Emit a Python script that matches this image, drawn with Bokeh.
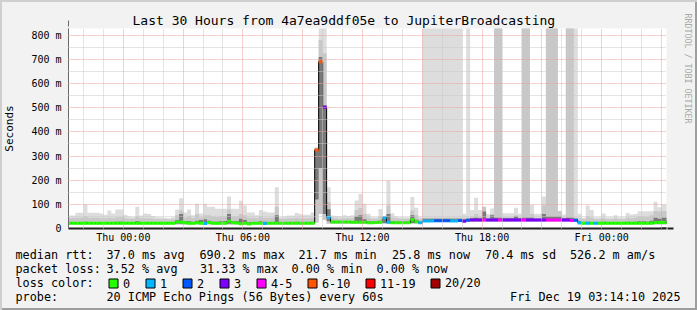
from math import pi
from bokeh.plotting import figure
from bokeh.layouts import column
from bokeh.models import Range1d, FixedTicker, Grid, Arrow, NormalHead, LinearAxis
from bokeh.core.properties import value
from bokeh.embed import file_html
from bokeh.resources import INLINE

FONT = "DejaVu Sans Mono"

# ---------------- data ----------------
step_hours = 0.2      # 12-minute consolidation step
first_bin = -2.8      # start of first bin, hours relative to Thu 00:00

rtt_median = [
    22, 22, 22, 22, 22, 22, 22, 22, 22, 22,
    22, 22, 22, 22, 22, 22, 22, 22, 22, 22,
    22, 22, 22, 22, 22, 22, 22, 27, 27, 24,
    22, 22, 24, 22, 21, 25, 22, 22, 22, 22,
    30, 24, 23, 20, 22, 19, 22, 22, 22, 21,
    22, 22, 22, 22, 22, 22, 22, 22, 22, 22,
    22, 22, 325, 690, 502, 47, 27, 27, 27, 27,
    27, 26, 26, 26, 26, 24, 24, 25, 26, 44,
    26, 24, 24, 24, 24, 24, 36, 28, 24, 31,
    31, 31, 32, 32, 32, 32, 31, 31, 33, 30,
    34, 35, 35, 35, 35, 35, 35, 35, 35, 35,
    35, 35, 35, 35, 35, 35, 35, 35, 35, 35,
    35, 35, 35, 35, 35, 35, 33, 34, 24, 22,
    22, 22, 22, 22, 22, 22, 22, 22, 22, 22,
    22, 22, 22, 22, 22, 22, 22, 25, 25, 25,
    25,
]
loss_idx = [
    0, 0, 0, 0, 0, 0, 0, 0, 0, 0,
    0, 0, 0, 0, 0, 0, 0, 0, 0, 0,
    0, 0, 0, 0, 0, 0, 0, 0, 0, 0,
    0, 0, 0, 0, 1, 0, 0, 0, 0, 0,
    0, 0, 0, 0, 0, 0, 0, 0, 0, 1,
    0, 0, 0, 0, 0, 0, 0, 0, 0, 0,
    0, 0, 5, 5, 3, 1, 0, 0, 0, 0,
    0, 0, 0, 0, 0, 0, 0, 0, 0, 1,
    1, 0, 0, 0, 0, 0, 0, 0, 1, 1,
    1, 1, 2, 2, 2, 2, 1, 1, 2, 3,
    2, 3, 3, 3, 4, 3, 3, 3, 4, 3,
    3, 3, 3, 3, 4, 3, 3, 3, 3, 3,
    4, 4, 4, 4, 3, 3, 4, 2, 1, 0,
    1, 0, 1, 0, 0, 0, 0, 0, 0, 0,
    0, 0, 0, 0, 0, 0, 0, 0, 0, 0,
    0,
]
rtt_min = [
    17, 17, 17, 17, 17, 17, 17, 17, 17, 17,
    17, 17, 17, 17, 17, 17, 17, 17, 17, 17,
    17, 17, 17, 17, 17, 17, 17, 17, 17, 17,
    17, 17, 17, 17, 17, 17, 17, 17, 17, 17,
    17, 17, 17, 17, 17, 17, 17, 17, 17, 17,
    17, 17, 17, 17, 17, 17, 17, 17, 17, 17,
    17, 17, 25, 60, 35, 20, 20, 20, 20, 20,
    20, 20, 20, 20, 20, 20, 20, 20, 20, 20,
    20, 20, 20, 20, 20, 20, 20, 20, 20, 27,
    27, 27, 27, 27, 27, 27, 27, 27, 27, 27,
    27, 27, 27, 27, 27, 27, 27, 27, 27, 27,
    27, 27, 27, 27, 27, 27, 27, 27, 27, 27,
    27, 27, 27, 27, 27, 27, 27, 27, 17, 17,
    17, 17, 17, 17, 17, 17, 17, 17, 17, 17,
    17, 17, 17, 17, 17, 17, 17, 17, 17, 17,
    17,
]
rtt_p25 = [
    20, 20, 20, 20, 20, 20, 20, 20, 20, 20,
    20, 20, 20, 20, 20, 20, 20, 20, 20, 20,
    20, 20, 20, 20, 20, 20, 20, 20, 20, 20,
    20, 20, 20, 20, 20, 20, 20, 20, 20, 20,
    20, 20, 20, 20, 20, 20, 20, 20, 20, 20,
    20, 20, 20, 20, 20, 20, 20, 20, 20, 20,
    20, 20, 120, 250, 60, 30, 23, 23, 23, 23,
    23, 23, 23, 23, 23, 23, 23, 23, 23, 23,
    23, 22, 22, 22, 22, 22, 23, 23, 22, 29,
    29, 29, 29, 29, 29, 29, 29, 29, 29, 29,
    31, 31, 31, 31, 31, 31, 31, 31, 31, 31,
    31, 31, 31, 31, 31, 31, 31, 31, 31, 31,
    31, 31, 31, 31, 31, 31, 30, 31, 21, 20,
    20, 20, 20, 20, 20, 20, 20, 20, 20, 20,
    20, 20, 20, 20, 20, 20, 20, 20, 20, 20,
    20,
]
rtt_p75 = [
    26, 26, 26, 26, 28, 26, 26, 26, 26, 26,
    27, 26, 28, 28, 26, 26, 26, 30, 26, 26,
    26, 26, 26, 26, 26, 26, 26, 35, 60, 30,
    30, 26, 32, 35, 38, 32, 28, 28, 30, 30,
    60, 30, 30, 40, 35, 26, 26, 26, 30, 28,
    26, 26, 55, 26, 26, 26, 26, 28, 26, 26,
    26, 28, 330, 710, 510, 80, 32, 30, 30, 30,
    30, 30, 50, 55, 38, 30, 28, 28, 32, 50,
    60, 30, 28, 28, 28, 28, 55, 36, 28, 40,
    40, 40, 40, 40, 40, 40, 40, 40, 40, 38,
    40, 42, 45, 42, 70, 40, 55, 45, 45, 42,
    42, 42, 50, 42, 45, 45, 45, 40, 40, 60,
    50, 50, 50, 50, 42, 45, 45, 40, 30, 26,
    28, 26, 26, 26, 28, 26, 26, 26, 26, 26,
    28, 26, 28, 30, 30, 28, 32, 45, 40, 45,
    45,
]
rtt_p90 = [
    42, 44, 45, 45, 50, 44, 45, 44, 42, 42,
    45, 42, 47, 47, 42, 40, 40, 50, 42, 42,
    42, 40, 38, 38, 38, 37, 38, 55, 75, 45,
    50, 42, 60, 45, 55, 55, 50, 48, 50, 50,
    79, 50, 50, 60, 55, 45, 45, 42, 50, 45,
    45, 45, 90, 40, 40, 42, 42, 45, 42, 42,
    42, 45, 333, 780, 724, 110, 45, 42, 40, 42,
    42, 42, 77, 85, 60, 45, 40, 40, 50, 45,
    95, 45, 42, 40, 40, 40, 75, 55, 40, 45,
    45, 45, 45, 45, 45, 45, 45, 45, 45, 45,
    45, 50, 60, 50, 90, 45, 60, 900, 900, 47,
    47, 47, 55, 45, 900, 900, 60, 45, 45, 96,
    900, 900, 900, 72, 45, 900, 900, 45, 42, 38,
    50, 45, 38, 38, 42, 38, 38, 42, 38, 38,
    45, 42, 45, 50, 50, 48, 55, 72, 70, 72,
    72,
]
rtt_max = [
    54, 54, 65, 65, 100, 65, 65, 65, 62, 57,
    75, 62, 79, 79, 57, 50, 47, 90, 54, 62,
    60, 52, 47, 47, 44, 42, 47, 79, 125, 66,
    79, 55, 102, 62, 102, 90, 90, 82, 82, 82,
    132, 82, 82, 115, 95, 66, 66, 55, 77, 70,
    66, 66, 171, 47, 50, 54, 54, 64, 60, 57,
    57, 66, 336, 900, 900, 171, 54, 52, 50, 55,
    52, 55, 116, 143, 102, 61, 47, 47, 81, 47,
    199, 63, 50, 47, 47, 47, 130, 86, 47, 900,
    900, 900, 900, 900, 900, 900, 900, 900, 900, 61,
    900, 77, 127, 77, 90, 60, 83, 900, 900, 63,
    63, 63, 86, 61, 900, 900, 97, 61, 61, 132,
    900, 900, 900, 72, 58, 900, 900, 900, 61, 44,
    95, 77, 47, 47, 62, 47, 47, 55, 47, 47,
    64, 58, 60, 71, 71, 71, 71, 111, 88, 98,
    102,
]

loss_labels = ["0", "1", "2", "3", "4-5", "6-10", "11-19", "20/20"]
loss_colors = ["#26ff00", "#00b8ff", "#0059ff", "#7e00ff",
               "#ff00fe", "#ff5500", "#ff0000", "#a10000"]

tick_hours = [0, 6, 12, 18, 24]
tick_labels = ["Thu 00:00", "Thu 06:00", "Thu 12:00", "Thu 18:00", "Fri 00:00"]
y_ticks = [0, 100, 200, 300, 400, 500, 600, 700, 800]
y_tick_labels = ["0", "100 m", "200 m", "300 m", "400 m", "500 m", "600 m", "700 m", "800 m"]

title_text = "Last 30 Hours from 4a7ea9ddf05e to JupiterBroadcasting"
rtt_stats = ["median rtt:", "37.0 ms avg", "690.2 ms max", "21.7 ms min",
             "25.8 ms now", "70.4 ms sd", "526.2 m am/s"]
loss_stats = ["packet loss:", "3.52 % avg", "31.33 % max", "0.00 % min", "0.00 % now"]
probe_text = ["probe:", "20 ICMP Echo Pings (56 Bytes) every 60s"]
stamp_text = "Fri Dec 19 03:14:10 2025"
watermark = "RRDTOOL / TOBI OETIKER"

# ---------------- layout ----------------
W, H = 697, 310
FL, FR, FT, FB = 66, 666, 28, 228
MAIN_H = 245
X0, X1 = -2.75, 27.25
Y0, Y1 = 0, 828

BACK = "#f2f2f2"
ARROW = "#801f1f"
AXIS = "#1f1f1f"
SMOKE_LIGHT = "#dddddd"
SMOKE_MID = "#c8c8c8"
SMOKE_DARK = "#7a7a7a"


def hx(px):
    return X0 + (px - FL) * (X1 - X0) / (FR - FL)


def vy(py):
    return Y0 + (FB - py) * (Y1 - Y0) / (FB - FT)


p = figure(width=W, height=MAIN_H, x_range=Range1d(X0, X1), y_range=Range1d(Y0, Y1),
           output_backend="svg", toolbar_location=None,
           min_border_left=FL, min_border_right=W - FR,
           min_border_top=FT, min_border_bottom=MAIN_H - FB)
p.frame_align = False
p.background_fill_color = "white"
p.border_fill_color = None
p.outline_line_color = None
p.xgrid.visible = False
p.ygrid.visible = False

n = len(rtt_median)
left = [first_bin + i * step_hours for i in range(n)]
right = [l + step_hours for l in left]


def steps(vals):
    out = []
    for v in vals:
        out += [v, v]
    return out


xs = []
for l, r in zip(left, right):
    xs += [l, r]

# smoke
p.varea(x=xs, y1=steps(rtt_min), y2=steps(rtt_max), fill_color=SMOKE_LIGHT)
p.varea(x=xs, y1=steps(rtt_min), y2=steps(rtt_p90), fill_color=SMOKE_MID)
p.varea(x=xs, y1=steps(rtt_p25), y2=steps(rtt_p75), fill_color=SMOKE_DARK)

# median: thin black step line + coloured loss segments
p.line(xs, steps(rtt_median), line_color="#000000", line_width=1)
p.segment(x0=left, x1=right, y0=rtt_median, y1=rtt_median,
          line_color=[loss_colors[k] for k in loss_idx], line_width=3)

# grids (drawn over the graph like rrdtool)
minor_x = [h for h in range(-2, 28) if h % 3 != 0]
major_x = [h for h in range(0, 28, 3)]
minor_y = list(range(50, 800, 100))
major_y = list(range(100, 801, 100))
for dim, ticks, col in [(0, minor_x, "#c8c8c8"), (1, minor_y, "#c8c8c8"),
                        (0, major_x, "#e8a0a0"), (1, major_y, "#e8a0a0")]:
    p.add_layout(Grid(dimension=dim, ticker=FixedTicker(ticks=ticks), grid_line_color=col,
                      grid_line_dash="1 1", grid_line_width=1, level="overlay"))

# axes
for ax in (p.xaxis[0], p.yaxis[0]):
    ax.major_tick_line_color = None
    ax.minor_tick_line_color = None
    ax.major_tick_out = 0
    ax.major_tick_in = 0
    ax.minor_tick_out = 0
    ax.minor_tick_in = 0
    ax.major_label_text_font = FONT
    ax.major_label_text_font_size = "10px"
    ax.major_label_text_color = "#000000"
p.xaxis.axis_line_color = AXIS
p.xaxis.axis_line_width = 2
p.yaxis.axis_line_color = "#6a6a6a"
p.yaxis.axis_line_width = 1
p.xaxis.ticker = FixedTicker(ticks=tick_hours)
p.xaxis.major_label_overrides = dict(zip(tick_hours, tick_labels))
p.xaxis.major_label_standoff = 3
p.yaxis.ticker = FixedTicker(ticks=y_ticks)
p.yaxis.major_label_overrides = dict(zip(y_ticks, y_tick_labels))
p.yaxis.major_label_standoff = 7
p.yaxis.axis_label = "Seconds"
p.yaxis.axis_label_text_font = FONT
p.yaxis.axis_label_text_font_size = "11px"
p.yaxis.axis_label_text_font_style = "normal"
p.yaxis.axis_label_text_color = "#000000"
p.yaxis.axis_label_standoff = 12

# watermark on the right (rrdtool prints it along the right border, near the top)
wm = LinearAxis(ticker=FixedTicker(ticks=[]), axis_line_color=None,
                major_tick_line_color=None, minor_tick_line_color=None,
                major_label_standoff=0, major_tick_out=0, minor_tick_out=0,
                major_tick_in=0, minor_tick_in=0,
                axis_label=watermark + "\u00a0" * 24,
                axis_label_text_font=FONT, axis_label_text_font_size="8.3px",
                axis_label_text_font_style="normal", axis_label_text_color="#a8a8a8",
                axis_label_standoff=16)
p.add_layout(wm, "right")

# title
p.title.text = title_text
p.title.align = "left"
p.title.offset = 64
p.title.standoff = 2
p.title.text_font = FONT
p.title.text_font_size = "13px"
p.title.text_font_style = "normal"
p.title.text_color = "#000000"

# arrow heads
p.add_layout(Arrow(end=NormalHead(size=6, fill_color=ARROW, line_color=ARROW),
                   x_start=hx(660), y_start=0, x_end=hx(673), y_end=0,
                   line_color=AXIS, line_width=2))
p.add_layout(Arrow(end=NormalHead(size=6, fill_color=ARROW, line_color=ARROW),
                   x_start=hx(66), y_start=0, x_end=hx(66), y_end=vy(20),
                   line_color="#6a6a6a", line_width=1))

# ---------------- legend strip (pixel coordinates of the page) ----------------
L_H = H - MAIN_H
q = figure(width=W, height=L_H, x_range=Range1d(0, W), y_range=Range1d(H, MAIN_H),
           output_backend="svg", toolbar_location=None, x_axis_type=None, y_axis_type=None,
           min_border_left=0, min_border_right=0, min_border_top=0, min_border_bottom=0)
q.frame_align = False
q.background_fill_color = None
q.border_fill_color = None
q.outline_line_color = None
q.xgrid.visible = False
q.ygrid.visible = False

LEG = value("11.8px")
tx, ty, tt, ta = [], [], [], []


def put(px, py, txt, align="left"):
    tx.append(px)
    ty.append(py)
    tt.append(txt)
    ta.append(align)


row1_x = [15, 106, 199, 298, 391.5, 484.5, 569.5]
for txt, px in zip(rtt_stats, row1_x):
    put(px, 254.7, txt)
row2_x = [15, 106, 199.5, 291, 376]
for txt, px in zip(loss_stats, row2_x):
    put(px, 268.7, txt)
put(15, 282.7, "loss color:")
box_x = [108.5, 145.5, 182.5, 219.5, 256.5, 307.5, 365.5, 430.5]
for bx, lab in zip(box_x, loss_labels):
    put(bx + 14, 282.7, lab)
put(15, 296.7, probe_text[0])
put(106, 296.7, probe_text[1])
put(680, 296.7, stamp_text, "right")

q.text(x=tx, y=ty, text=tt, text_align=ta, text_baseline="middle",
       text_font=value(FONT), text_font_size=LEG, text_color="#000000")
q.quad(left=box_x, right=[b + 9 for b in box_x], top=[278.5] * len(box_x),
       bottom=[287.5] * len(box_x), fill_color=loss_colors, line_color="#000000", line_width=1)

layout = column(p, q, spacing=0,
                styles={"background-color": BACK,
                        "box-shadow": "inset 2px 2px 0 0 #cfcfcf, inset -2px -2px 0 0 #9e9e9e"})
open("out.html", "w").write(file_html(layout, INLINE, title="smokeping"))
